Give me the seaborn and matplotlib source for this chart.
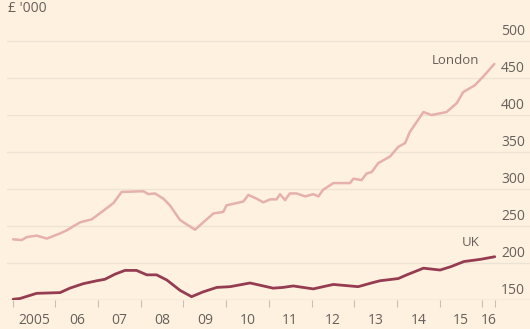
import matplotlib
matplotlib.use("Agg")
import matplotlib.pyplot as plt
import matplotlib.transforms as mtransforms
import pandas as pd
import seaborn as sns

# Average house prices, £'000, x in decimal years
london_year = [2005.01, 2005.21, 2005.33, 2005.56, 2005.80, 2006.11, 2006.26, 2006.58,
               2006.85, 2007.04, 2007.36, 2007.55, 2008.06, 2008.18, 2008.33, 2008.53,
               2008.68, 2008.92, 2009.27, 2009.70, 2009.93, 2010.01, 2010.40, 2010.52,
               2010.71, 2010.87, 2011.03, 2011.18, 2011.26, 2011.38, 2011.49, 2011.65,
               2011.85, 2012.04, 2012.16, 2012.27, 2012.51, 2012.90, 2012.98, 2013.17,
               2013.29, 2013.41, 2013.56, 2013.84, 2014.03, 2014.19, 2014.30, 2014.62,
               2014.81, 2015.16, 2015.40, 2015.55, 2015.82, 2016.02, 2016.28]
london_price = [232, 231, 235, 237, 233, 240, 244, 255,
                259, 267, 281, 296, 297, 293, 294, 287,
                278, 258, 245, 267, 269, 278, 283, 292,
                287, 282, 286, 286, 293, 285, 294, 294,
                290, 293, 290, 299, 308, 308, 314, 312,
                321, 323, 335, 344, 357, 362, 377, 404,
                400, 404, 416, 431, 440, 452, 469]

uk_year = [2005.01, 2005.17, 2005.56, 2006.11, 2006.34, 2006.65, 2006.97, 2007.16,
           2007.40, 2007.63, 2007.90, 2008.14, 2008.37, 2008.61, 2008.92, 2009.19,
           2009.46, 2009.78, 2010.09, 2010.56, 2010.79, 2011.10, 2011.33, 2011.57,
           2011.80, 2012.04, 2012.27, 2012.51, 2012.90, 2013.09, 2013.37, 2013.60,
           2014.03, 2014.23, 2014.62, 2015.01, 2015.26, 2015.57, 2015.96, 2016.29]
uk_price = [151, 152, 159, 160, 166, 172, 176, 178,
            185, 190, 190, 184, 184, 177, 163, 154.5,
            161, 167, 168, 173, 170, 166, 167, 169,
            167, 165, 168, 171, 169, 168, 172.5, 176,
            179, 184, 193, 190.5, 195, 202, 205, 208.5]

year_ticks = list(range(2005, 2017)) + [2016.3]
year_labels = ["2005", "06", "07", "08", "09", "10", "11", "12", "13", "14", "15", "16"]
y_ticks = [150, 200, 250, 300, 350, 400, 450, 500]

BG = "#fff1e0"
GRID = "#ece2d5"
TEXT = "#66605c"
LONDON = "#e6b0ab"
UK = "#953c52"

sns.set_style("white", {"axes.facecolor": BG, "figure.facecolor": BG})
plt.rcParams["font.family"] = ["Open Sans", "DejaVu Sans"]

fig = plt.figure(figsize=(5.3, 3.29), dpi=100)
ax = fig.add_axes([7 / 530, 29 / 329, 523 / 530, 280 / 329])

df_london = pd.DataFrame({"year": london_year, "price": london_price})
df_uk = pd.DataFrame({"year": uk_year, "price": uk_price})
sns.lineplot(data=df_london, x="year", y="price", color=LONDON, linewidth=1.8, ax=ax)
sns.lineplot(data=df_uk, x="year", y="price", color=UK, linewidth=2.0, ax=ax)

ax.set_xlim(2004.867, 2017.115)
ax.set_ylim(150, 528.4)

for s in ax.spines.values():
    s.set_visible(False)

# horizontal gridlines, darker baseline
for v in y_ticks[1:]:
    ax.axhline(v, color=GRID, linewidth=1.0, zorder=0)
ax.axhline(150, color="#d4c9bd", linewidth=1.0, zorder=1)

# right-side y labels sitting above the gridlines
trans = mtransforms.blended_transform_factory(ax.transAxes, ax.transData)
for v in y_ticks:
    ax.text(0.99, v + 3, str(v), transform=trans, ha="right", va="bottom",
            fontsize=10, color=TEXT)
ax.set_yticks([])

# year ticks at boundaries, labels centred between them
ax.set_xticks(year_ticks)
ax.set_xticklabels([])
ax.tick_params(axis="x", direction="out", length=5, width=0.8, color="#c9beb2", bottom=True)
ax.set_xticks([y + 0.5 for y in range(2005, 2016)] + [2016.15], minor=True)
ax.set_xticklabels(year_labels, minor=True, fontsize=10, color=TEXT)
ax.tick_params(axis="x", which="minor", length=0, pad=9)

ax.set_xlabel("")
ax.set_ylabel("")

ax.text(2015.38, 474, "London", fontsize=9.5, color=TEXT, ha="center", va="center")
ax.text(2015.73, 228, "UK", fontsize=9.5, color=TEXT, ha="center", va="center")

fig.text(8 / 530, 1 - 9 / 329, "£ '000", fontsize=10, color=TEXT, ha="left", va="center")

fig.savefig("out.png", dpi=100, facecolor=BG)
